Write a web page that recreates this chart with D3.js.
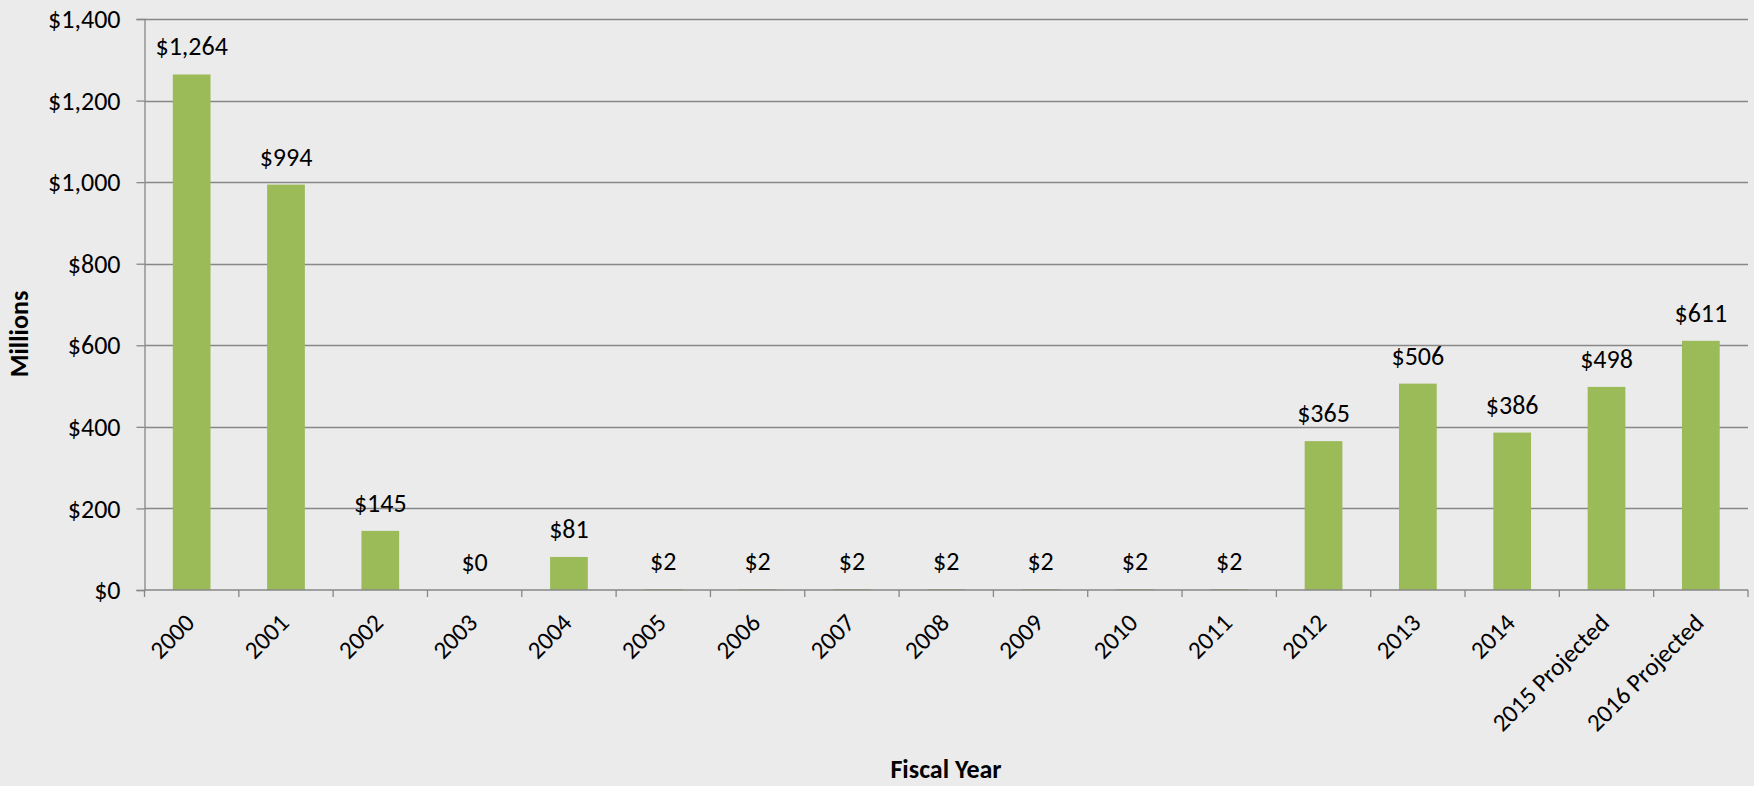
<!DOCTYPE html>
<html>
<head>
<meta charset="utf-8">
<script src="https://cdn.jsdelivr.net/npm/d3@7"></script>
<style>
  html, body { margin: 0; padding: 0; background: #ebebeb; }
  svg { display: block; }
  text { font-family: Carlito, Calibri, Lato, "Open Sans", sans-serif; fill: #000; }
</style>
</head>
<body>
<svg id="chart" width="1754" height="786"></svg>
<script>
const categories = ["2000","2001","2002","2003","2004","2005","2006","2007","2008","2009","2010","2011","2012","2013","2014","2015 Projected","2016 Projected"];
const values = [1264, 994, 145, 0, 81, 2, 2, 2, 2, 2, 2, 2, 365, 506, 386, 498, 611];
const yTicks = [0, 200, 400, 600, 800, 1000, 1200, 1400];
const xTitle = "Fiscal Year";
const yTitle = "Millions";

const W = 1754, H = 786;
const m = { left: 144.5, right: 6, top: 19, bottom: 196 };
const FS = 26;
const svg = d3.select("#chart");
svg.append("rect").attr("width", W).attr("height", H).attr("fill", "#ebebeb");

const x = d3.scaleBand().domain(categories).range([m.left, W - m.right]).paddingInner(0.6).paddingOuter(0.3);
const xb = d3.scaleBand().domain(categories).range([m.left, W - m.right]);
const y = d3.scaleLinear().domain([0, 1400]).range([H - m.bottom, m.top]);

const gridColor = "#878787";
const fmt = v => "$" + d3.format(",")(v);

// gridlines
svg.append("g").selectAll("line").data(yTicks.filter(d => d > 0)).join("line")
  .attr("x1", m.left).attr("x2", W - m.right)
  .attr("y1", d => Math.round(y(d)) + 0.5).attr("y2", d => Math.round(y(d)) + 0.5)
  .attr("stroke", gridColor).attr("stroke-width", 1.3);

// y axis
const yAxis = svg.append("g").attr("transform", `translate(${m.left},0)`)
  .call(d3.axisLeft(y).tickValues(yTicks).tickFormat(fmt).tickSize(8).tickPadding(16));
yAxis.select(".domain").attr("stroke", gridColor).attr("stroke-width", 1.3);
yAxis.selectAll(".tick line").attr("stroke", gridColor).attr("stroke-width", 1.3);
yAxis.selectAll(".tick text").attr("font-size", FS).attr("fill", "#000")
  .attr("font-family", "Carlito, Calibri, Lato, sans-serif").attr("dy", "0.33em");

// bars
svg.append("g").selectAll("rect").data(categories).join("rect")
  .attr("x", d => x(d)).attr("width", x.bandwidth())
  .attr("y", (d, i) => y(values[i])).attr("height", (d, i) => y(0) - y(values[i]))
  .attr("fill", "#9bbb59");

// x axis
const x0 = y(0);
const xg = svg.append("g");
xg.append("line").attr("x1", m.left).attr("x2", W - m.right)
  .attr("y1", x0).attr("y2", x0).attr("stroke", gridColor).attr("stroke-width", 1.3);
const tickPos = categories.map(c => xb(c)).concat([xb(categories[categories.length - 1]) + xb.bandwidth()]);
xg.selectAll("line.tk").data(tickPos).join("line").attr("class", "tk")
  .attr("x1", d => d).attr("x2", d => d).attr("y1", x0).attr("y2", x0 + 7)
  .attr("stroke", gridColor).attr("stroke-width", 1.3);
xg.selectAll("text").data(categories).join("text")
  .attr("transform", d => `translate(${xb(d) + xb.bandwidth() / 2 - 8},${x0 + 22}) rotate(-45)`)
  .attr("text-anchor", "end").attr("dy", "0.7em").attr("font-size", 25)
  .text(d => d);

// data labels
svg.append("g").selectAll("text").data(categories).join("text")
  .attr("x", d => x(d) + x.bandwidth() / 2)
  .attr("y", (d, i) => y(values[i]) - 19)
  .attr("text-anchor", "middle").attr("font-size", FS)
  .text((d, i) => fmt(values[i]));

// axis titles
svg.append("text").attr("x", 946).attr("y", 778)
  .attr("text-anchor", "middle").attr("font-size", FS).attr("font-weight", "bold").text(xTitle);
svg.append("text").attr("transform", `translate(28,334) rotate(-90)`)
  .attr("text-anchor", "middle").attr("font-size", FS).attr("font-weight", "bold").text(yTitle);
</script>
</body>
</html>
